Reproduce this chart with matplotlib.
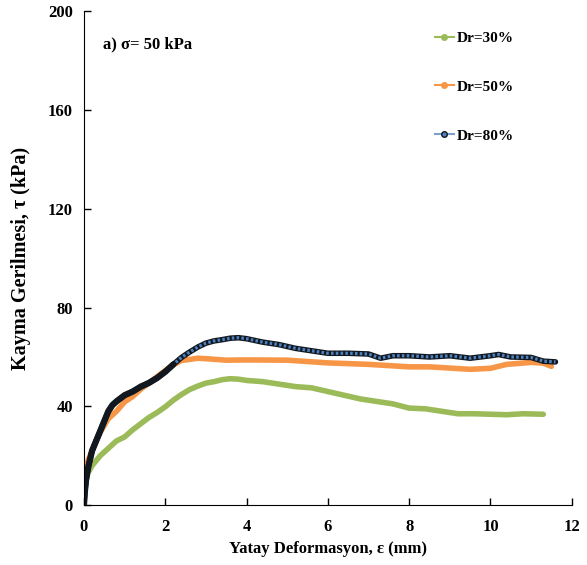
import numpy as np
import matplotlib.pyplot as plt

plt.rcParams['font.family'] = ['Liberation Serif', 'DejaVu Serif']
plt.rcParams['font.weight'] = 'bold'

# Dr=30%
x30 = [0, 0.02, 0.05, 0.1, 0.2, 0.4, 0.6, 0.8, 1.0, 1.2, 1.4, 1.6, 1.8, 2.0, 2.2, 2.4,
       2.6, 2.8, 3.0, 3.2, 3.4, 3.6, 3.8, 4.0, 4.4, 4.8, 5.2, 5.6, 6.0, 6.4, 6.8,
       7.2, 7.6, 8.0, 8.4, 8.8, 9.2, 9.6, 10.0, 10.4, 10.8, 11.3]
y30 = [0, 6, 10, 13, 16, 20, 23, 26, 27.6, 30.5, 33, 35.5, 37.5, 39.8, 42.5, 44.8,
       46.8, 48.2, 49.4, 50, 50.8, 51.2, 51, 50.5, 50, 49, 48, 47.5, 46, 44.5, 43,
       42, 41, 39.3, 39, 38, 37, 37, 36.8, 36.6, 37, 36.8]

# Dr=50%
x50 = [0, 0.02, 0.05, 0.1, 0.2, 0.3, 0.4, 0.6, 0.8, 1.0, 1.2, 1.4, 1.6, 1.8, 2.0,
       2.2, 2.4, 2.6, 2.8, 3.0, 3.5, 4.0, 5.0, 6.0, 7.0, 8.0, 8.5, 9.0, 9.5, 10.0,
       10.4, 11.0, 11.3, 11.5]
y50 = [0, 12, 15, 18, 22, 26, 29.5, 35, 38, 41.8, 44, 47, 49.5, 52, 54.5,
       56.8, 58.6, 59, 59.5, 59.3, 58.7, 58.8, 58.7, 57.6, 57, 56, 56, 55.5, 55, 55.4,
       57, 57.8, 57.5, 56.2]

# Dr=80%
x80 = [0, 0.02, 0.05, 0.1, 0.2, 0.3, 0.4, 0.5, 0.6, 0.7, 0.8, 1.0, 1.2, 1.4, 1.6,
       1.8, 2.0, 2.2, 2.4, 2.6, 2.8, 3.0, 3.2, 3.4, 3.6, 3.8, 4.0, 4.4, 4.8, 5.2,
       5.6, 6.0, 6.5, 7.0, 7.3, 7.6, 8.0, 8.5, 9.0, 9.5, 10.0, 10.2, 10.5, 11.0,
       11.3, 11.6]
y80 = [0, 5, 10, 15, 22, 26, 30, 34, 38, 40.5, 42, 44.5, 46, 48, 49.5,
       51.5, 54, 57, 59.8, 62, 64, 65.6, 66.5, 67, 67.6, 67.8, 67.4, 66, 65, 63.5,
       62.5, 61.5, 61.5, 61.2, 59.5, 60.5, 60.5, 60, 60.5, 59.5, 60.5, 61, 60, 59.8,
       58.3, 58]
n_dense = 18   # early, very dense part of the Dr=80% record (looks black)

green = '#9BBB59'
orange = '#F79646'
blue = '#4F81BD'
dark = '#111820'

fig = plt.figure(figsize=(5.87, 5.65), dpi=100)
ax = fig.add_axes([0.143, 0.106, 0.831, 0.874])

ax.plot(x30, y30, color=green, lw=4, solid_capstyle='round', solid_joinstyle='round')
ax.plot(x50, y50, color=orange, lw=4, solid_capstyle='round', solid_joinstyle='round')
ax.plot(x80, y80, color=dark, lw=4, solid_capstyle='round', solid_joinstyle='round')
ax.plot(x80, y80, color=blue, lw=2.3, dashes=(0.8, 0.7))
ax.plot(x80[:n_dense], y80[:n_dense], color=dark, lw=4.5, solid_capstyle='round',
        solid_joinstyle='round')

# legend handles
ax.plot([], [], color=green, lw=1.5, marker='o', ms=4, mec=green, label='Dr=30%')
ax.plot([], [], color=orange, lw=1.5, marker='o', ms=4, mec=orange, label='Dr=50%')
ax.plot([], [], color='#7da0cc', lw=1.5, marker='o', ms=4, mfc=blue, mec=dark,
        label='Dr=80%')
handles, labels = ax.get_legend_handles_labels()
ax.legend(handles[-3:], labels[-3:], loc='upper left', bbox_to_anchor=(0.703, 0.975),
          frameon=False, handlelength=1.3, handletextpad=0.15,
          labelspacing=2.3, borderpad=0, prop={'weight': 'bold', 'size': 11})

ax.text(0.04, 0.933, 'a) σ= 50 kPa', transform=ax.transAxes, fontsize=12,
        fontweight='bold', va='center')

ax.set_xlim(0, 12)
ax.set_ylim(0, 200)
ax.set_xticks(np.arange(0, 13, 2))
ax.set_yticks(np.arange(0, 201, 40))
ax.spines['top'].set_visible(False)
ax.spines['right'].set_visible(False)
ax.tick_params(direction='in', length=5, width=1, labelsize=12, pad=8)
ax.tick_params(axis='x', pad=10)
for lab in ax.get_xticklabels() + ax.get_yticklabels():
    lab.set_fontweight('bold')
ax.set_xlabel('Yatay Deformasyon, ε (mm)', fontsize=12, fontweight='bold', labelpad=4)
ax.set_ylabel('Kayma Gerilmesi, τ (kPa)', fontsize=14.5, fontweight='bold', labelpad=12)

plt.savefig('out.png', dpi=100)
